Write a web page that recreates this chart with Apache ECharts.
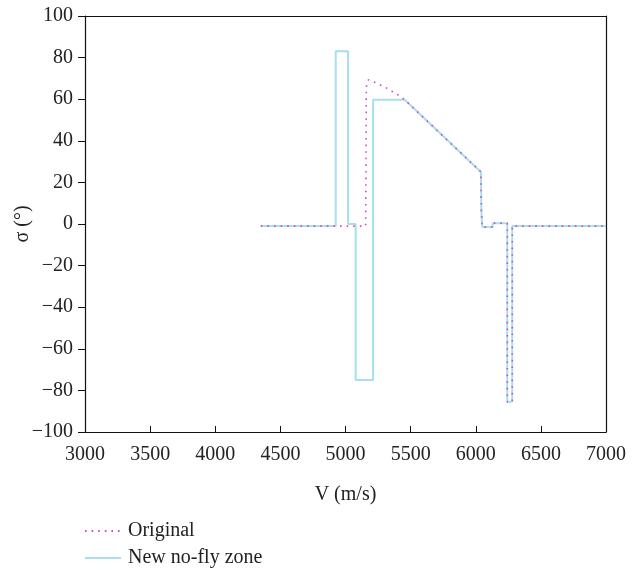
<!DOCTYPE html>
<html>
<head>
<meta charset="utf-8">
<script src="https://cdn.jsdelivr.net/npm/echarts@6/dist/echarts.min.js"></script>
<style>html,body{margin:0;padding:0;background:#fff}#c{width:640px;height:570px}</style>
</head>
<body>
<div id="c"></div>
<script>
// Data
const seriesNames = ['Original', 'New no-fly zone'];
const xTicks = [3000, 3500, 4000, 4500, 5000, 5500, 6000, 6500, 7000];
const yTicks = [-100, -80, -60, -40, -20, 0, 20, 40, 60, 80, 100];

const newV     = [4350, 4925, 4925, 5020, 5020, 5078, 5078, 5212, 5212, 5455, 6040, 6043, 6050, 6130, 6130, 6242, 6242, 6280, 6280, 7000];
const newSigma = [-1,   -1,   83,   83,   0,    0,    -75,  -75,  59.7, 59.7, 25,   6,    -1.5, -1.5, 0.4,  0.4,  -85.5,-85.5,-1,   -1];

const origV     = [4350, 5155, 5160, 5175, 5230, 5320, 5410, 5455, 6040, 6043, 6050, 6130, 6130, 6242, 6242, 6280, 6280, 7000];
const origSigma = [-1,   -1,   66,   69.3, 68,   65.2, 61.8, 59.7, 25,   6,    -1.5, -1.5, 0.4,  0.4,  -85.5,-85.5,-1,   -1];

const zip = (a, b) => a.map((v, i) => [v, b[i]]);
const FONT = 'Liberation Serif';
const minus = v => String(v).replace('-', '\u2212');

const chart = echarts.init(document.getElementById('c'), null, {renderer: 'canvas'});
chart.setOption({
  animation: false,
  backgroundColor: '#fff',
  grid: {left: 85, right: 34, top: 16, bottom: 138, containLabel: false, outerBoundsMode: 'none'},
  legend: {
    data: seriesNames,
    orient: 'vertical',
    left: 84,
    top: 521,
    padding: 0,
    itemWidth: 36,
    itemHeight: 14,
    itemGap: 7,
    align: 'left',
    itemStyle: {opacity: 0},
    textStyle: {fontFamily: FONT, fontSize: 20, color: '#222', padding: [0, 0, 0, 2]}
  },
  xAxis: [{
    type: 'value', min: xTicks[0], max: xTicks[xTicks.length - 1], interval: 500,
    name: 'V (m/s)', nameLocation: 'middle', nameGap: 53, nameMoveOverlap: false,
    nameTextStyle: {fontFamily: FONT, fontSize: 20, color: '#222'},
    axisLine: {onZero: false, lineStyle: {color: '#111', width: 1.2}},
    axisTick: {inside: true, length: 6, lineStyle: {color: '#111'}},
    axisLabel: {fontFamily: FONT, fontSize: 20, color: '#222', margin: 13, formatter: minus},
    splitLine: {show: false}
  }, {
    type: 'value', position: 'top', min: 3000, max: 7000,
    axisLine: {show: true, onZero: false, lineStyle: {color: '#111', width: 1.2}},
    axisTick: {show: false}, axisLabel: {show: false}, splitLine: {show: false}
  }],
  yAxis: [{
    type: 'value', min: yTicks[0], max: yTicks[yTicks.length - 1], interval: 20,
    name: 'σ (°)', nameLocation: 'middle', nameGap: 52, nameRotate: 90, nameMoveOverlap: false,
    nameTextStyle: {fontFamily: FONT, fontSize: 20, color: '#222'},
    axisLine: {onZero: false, lineStyle: {color: '#111', width: 1.2}},
    axisTick: {inside: false, length: 7, lineStyle: {color: '#111'}},
    axisLabel: {fontFamily: FONT, fontSize: 20, color: '#222', margin: 12, formatter: minus},
    splitLine: {show: false}
  }, {
    type: 'value', position: 'right', min: -100, max: 100,
    axisLine: {show: true, onZero: false, lineStyle: {color: '#111', width: 1.2}},
    axisTick: {show: false}, axisLabel: {show: false}, splitLine: {show: false}
  }],
  series: [{
    name: seriesNames[0], type: 'line', data: zip(origV, origSigma),
    symbol: 'none', z: 3,
    lineStyle: {color: '#d44bb8', width: 1.6, type: [1.6, 5]},
    itemStyle: {color: '#d44bb8'}
  }, {
    name: seriesNames[1], type: 'line', data: zip(newV, newSigma),
    symbol: 'none', z: 2,
    lineStyle: {color: '#a6dfed', width: 2},
    itemStyle: {color: '#a6dfed'}
  }]
});
</script>
</body>
</html>
